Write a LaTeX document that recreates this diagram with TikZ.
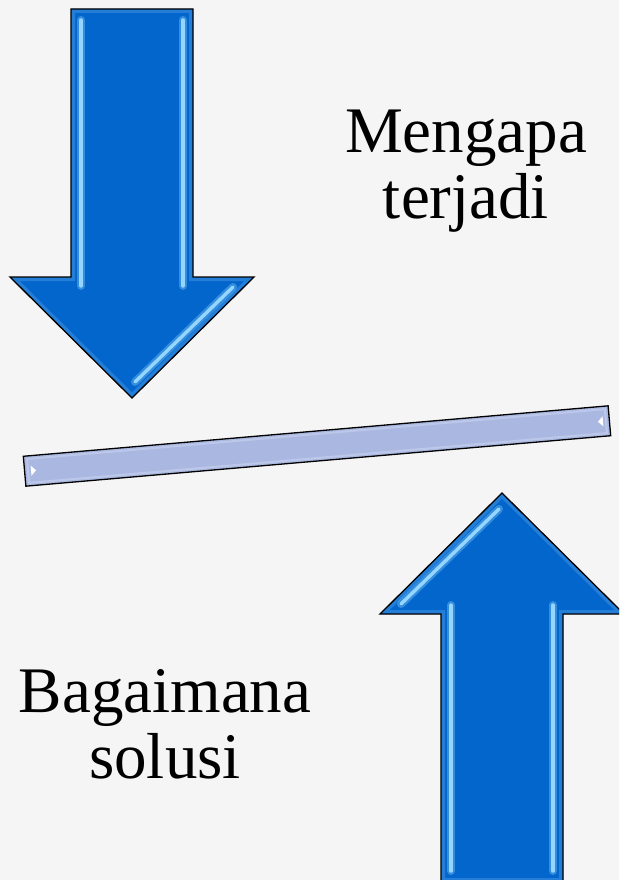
\documentclass[tikz,border=0pt]{standalone}
\usepackage{fontspec}
\setmainfont{Liberation Serif}

\definecolor{bg}{HTML}{F5F5F5}
\definecolor{arrowblue}{HTML}{0366CC}
\definecolor{bevelrim}{HTML}{3A8EE0}
\definecolor{bevellight}{HTML}{94D6FF}
\definecolor{barfill}{HTML}{AAB8E1}
\definecolor{barrim}{HTML}{C8D2F0}

% outline of a downward block arrow, tip at the origin
\newcommand\arrowshapepath{(0,0) -- (122,-121) -- (61,-121) -- (61,-389) -- (-61,-389) -- (-61,-121) -- (-122,-121) -- cycle}

\tikzset{
  arrowbody/.style={fill=arrowblue},
  arrowoutline/.style={draw=black, line width=1.3pt, line join=miter},
  rim/.style={draw=bevelrim, line width=8pt, opacity=0.6},
  glint/.style={draw=bevellight, line width=3.4pt, line cap=round},
  glintsoft/.style={draw=bevellight, line width=8pt, opacity=0.35, line cap=round},
  barbox/.style={draw=black, line width=1.3pt, fill=barfill,
    minimum width=587pt, minimum height=30pt, inner sep=0pt},
  heading/.style={font=\fontsize{65}{66}\selectfont, align=center,
    inner sep=0pt, anchor=base},
  pics/bevelarrow/.style={code={
    \path[arrowbody] \arrowshapepath;
    \begin{scope}
      \clip \arrowshapepath;
      \draw[rim] \arrowshapepath;
    \end{scope}
    % bright bevel glints along the shaft and the head
    \draw[glintsoft] (-51,-378) -- (-51,-112);
    \draw[glint]     (-51,-378) -- (-51,-112);
    \draw[glintsoft] (51,-378) -- (51,-112);
    \draw[glint]     (51,-378) -- (51,-112);
    \draw[glintsoft] (101,-111) -- (3,-16);
    \draw[glint]     (101,-111) -- (3,-16);
    \draw[arrowoutline] \arrowshapepath;
  }}
}

\begin{document}
\begin{tikzpicture}[x=1pt, y=-1pt]
  \useasboundingbox (0,0) rectangle (619,880);
  \fill[bg] (0,0) rectangle (619,880);
  \clip (0,0) rectangle (619,880);

  % the two block arrows
  \pic at (132,398) {bevelarrow};
  \pic[rotate=180] at (502,493) {bevelarrow};

  % the tilted bar between them
  \node[barbox, rotate=4.93] (bar) at (317,446) {};
  \begin{scope}[shift={(bar.center)}, rotate=4.93]
    \draw[barrim, line width=2pt, opacity=0.6] (-290,-12) rectangle (290,12);
    \fill[white] (-287,-5) -- (-282,0) -- (-287,5) -- cycle;
    \fill[white] (287,-5) -- (282,0) -- (287,5) -- cycle;
  \end{scope}

  % labels (base anchor sits on the last line)
  \node[heading] (why) at (466,218) {Mengapa\\terjadi};
  \node[heading] (how) at (165,778) {Bagaimana\\solusi};
\end{tikzpicture}
\end{document}
